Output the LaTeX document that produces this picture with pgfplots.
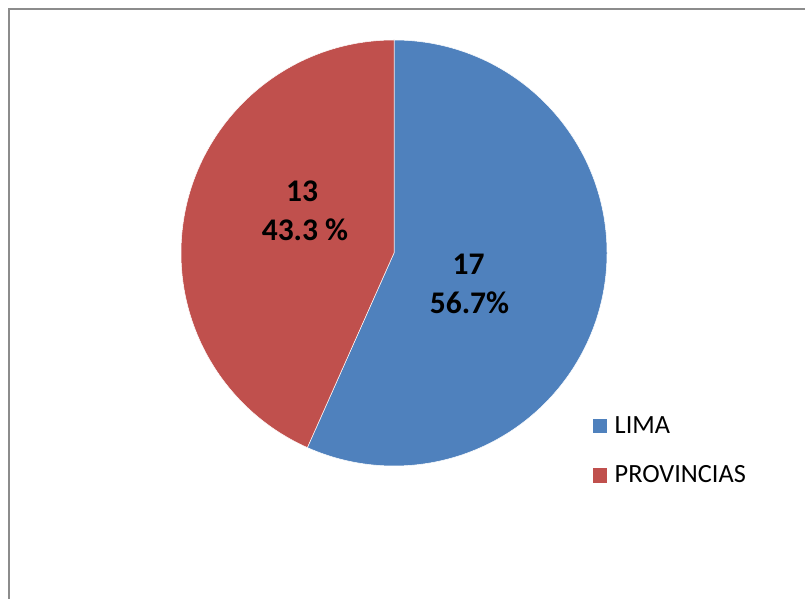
\documentclass[border=0pt]{standalone}
\usepackage{pgfplots}
\pgfplotsset{compat=1.18}
\usepackage{pgfplotstable}
\usepackage{fontspec}
\setmainfont{Carlito}
\definecolor{limablue}{HTML}{4F81BD}
\definecolor{provred}{HTML}{C0504D}
\definecolor{framegray}{HTML}{8C8C8C}
\pgfplotstableread{
name value
LIMA 17
PROVINCIAS 13
}\piedata
\begin{document}
\begin{tikzpicture}
\useasboundingbox (0,0) rectangle (805pt,599pt);
\clip (0,0) rectangle (805pt,599pt);
\pgfplotstablegetelem{0}{value}\of\piedata \let\vA\pgfplotsretval
\pgfplotstablegetelem{1}{value}\of\piedata \let\vB\pgfplotsretval
\pgfmathsetmacro{\angA}{90-360*\vA/(\vA+\vB)}
\begin{axis}[x=1pt,y=1pt,xmin=0,xmax=805,ymin=0,ymax=599,hide axis,
  anchor=origin,at={(0pt,0pt)},clip=false,scale only axis]
% frame
\draw[framegray,line width=2pt] (axis cs:9,-20) -- (axis cs:9,590) -- (axis cs:830,590);
% slices
\fill[limablue,draw=white,line width=0.5pt] (axis cs:394,346) -- (axis cs:394,559)
  arc[start angle=90,end angle=\angA,radius=213pt] -- cycle;
\fill[provred,draw=white,line width=0.5pt] (axis cs:394,346) -- (axis cs:394,559)
  arc[start angle=90,end angle=\angA+360,radius=213pt] -- cycle;
% labels
\node[font=\fontsize{31.5}{36}\selectfont\bfseries,anchor=base,inner sep=0pt] at (axis cs:468.5,324) {17};
\node[font=\fontsize{31.5}{36}\selectfont\bfseries,anchor=base,inner sep=0pt] at (axis cs:469.5,285) {56.7\%};
\node[font=\fontsize{31.5}{36}\selectfont\bfseries,anchor=base,inner sep=0pt] at (axis cs:302,397) {13};
\node[font=\fontsize{31.5}{36}\selectfont\bfseries,anchor=base,inner sep=0pt] at (axis cs:305,358) {43.3 \%};
% legend
\fill[limablue] (axis cs:593,166) rectangle (axis cs:607,180);
\node[font=\fontsize{26.3}{30}\selectfont,anchor=base west,inner sep=0pt] at (axis cs:614.5,165) {LIMA};
\fill[provred] (axis cs:593,116) rectangle (axis cs:607,131);
\node[font=\fontsize{26.3}{30}\selectfont,anchor=base west,inner sep=0pt] at (axis cs:614.5,116) {PROVINCIAS};
\end{axis}
\end{tikzpicture}
\end{document}
